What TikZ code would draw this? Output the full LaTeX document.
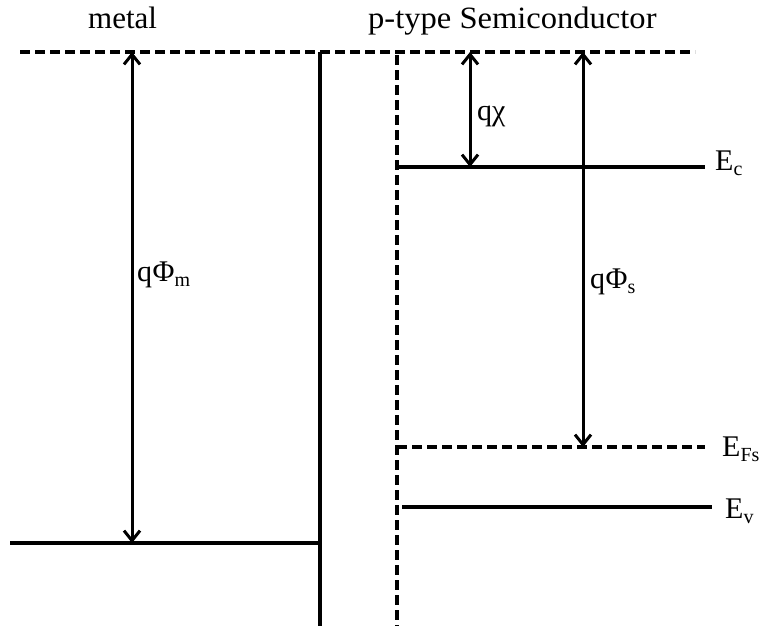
\documentclass[tikz,border=0pt]{standalone}
\usepackage{fontspec}
\setmainfont{Liberation Serif}
\usetikzlibrary{arrows.meta}
\newcommand\lowsub[1]{\raisebox{-5pt}{\fontsize{20}{20}\selectfont #1}}
\begin{document}
\begin{tikzpicture}[x=1pt,y=-1pt,
  lvl/.style={line width=3.2pt},
  dsh/.style={line width=3.2pt,dash pattern=on 10pt off 5pt},
  dbl/.style={line width=3pt,{Straight Barb[length=10pt,width=16pt]}-{Straight Barb[length=10pt,width=16pt]}},
  lbl/.style={font=\fontsize{30}{34}\selectfont, inner sep=0pt, anchor=base west},
  ttl/.style={font=\fontsize{31}{35}\selectfont, inner sep=0pt, anchor=base west},
]
\useasboundingbox (0,0) rectangle (762,630);
% coordinates
\coordinate (vacL) at (20,52);   \coordinate (vacR) at (695,52);
\coordinate (mTop) at (320,52);  \coordinate (mBot) at (320,626);
\coordinate (sTop) at (397,55);  \coordinate (sBot) at (397,626);
\coordinate (EFmL) at (10,543);  \coordinate (EFmR) at (320,543);
\coordinate (EcL) at (397,167);  \coordinate (EcR) at (705,167);
\coordinate (EFsL) at (397,447); \coordinate (EFsR) at (705,447);
\coordinate (EvL) at (402,507);  \coordinate (EvR) at (712,507);
\coordinate (phimT) at (132,52); \coordinate (phimB) at (132,543);
\coordinate (chiT) at (470,52);  \coordinate (chiB) at (470,167);
\coordinate (phisT) at (583,52); \coordinate (phisB) at (583,447);
% lines
\draw[dsh] (vacL) -- (vacR);
\draw[lvl] (mTop) -- (mBot);
\draw[dsh] (sTop) -- (sBot);
\draw[lvl] (EFmL) -- (EFmR);
\draw[lvl] (EcL) -- (EcR);
\draw[dsh] (EFsL) -- (EFsR);
\draw[lvl] (EvL) -- (EvR);
% arrows
\draw[dbl] (phimT) -- (phimB);
\draw[dbl] (chiT) -- (chiB);
\draw[dbl] (phisT) -- (phisB);
% labels
\node[ttl] (metal) at (88,28) {metal};
\node[ttl, xscale=1.05] (ptype) at (368,28) {p-type Semiconductor};
\node[lbl] (lphim) at (137,281) {q\kern0.5ptΦ\lowsub{m}};
\node[lbl] (lchi) at (477,120) {qχ};
\node[lbl] (lphis) at (590,288) {q\kern0.5ptΦ\lowsub{s}};
\node[lbl] (lEc) at (715,170) {E\lowsub{c}};
\node[lbl] (lEFs) at (722,456) {E\lowsub{Fs}};
\node[lbl] (lEv) at (725,518) {E\lowsub{v}};
\end{tikzpicture}
\end{document}
